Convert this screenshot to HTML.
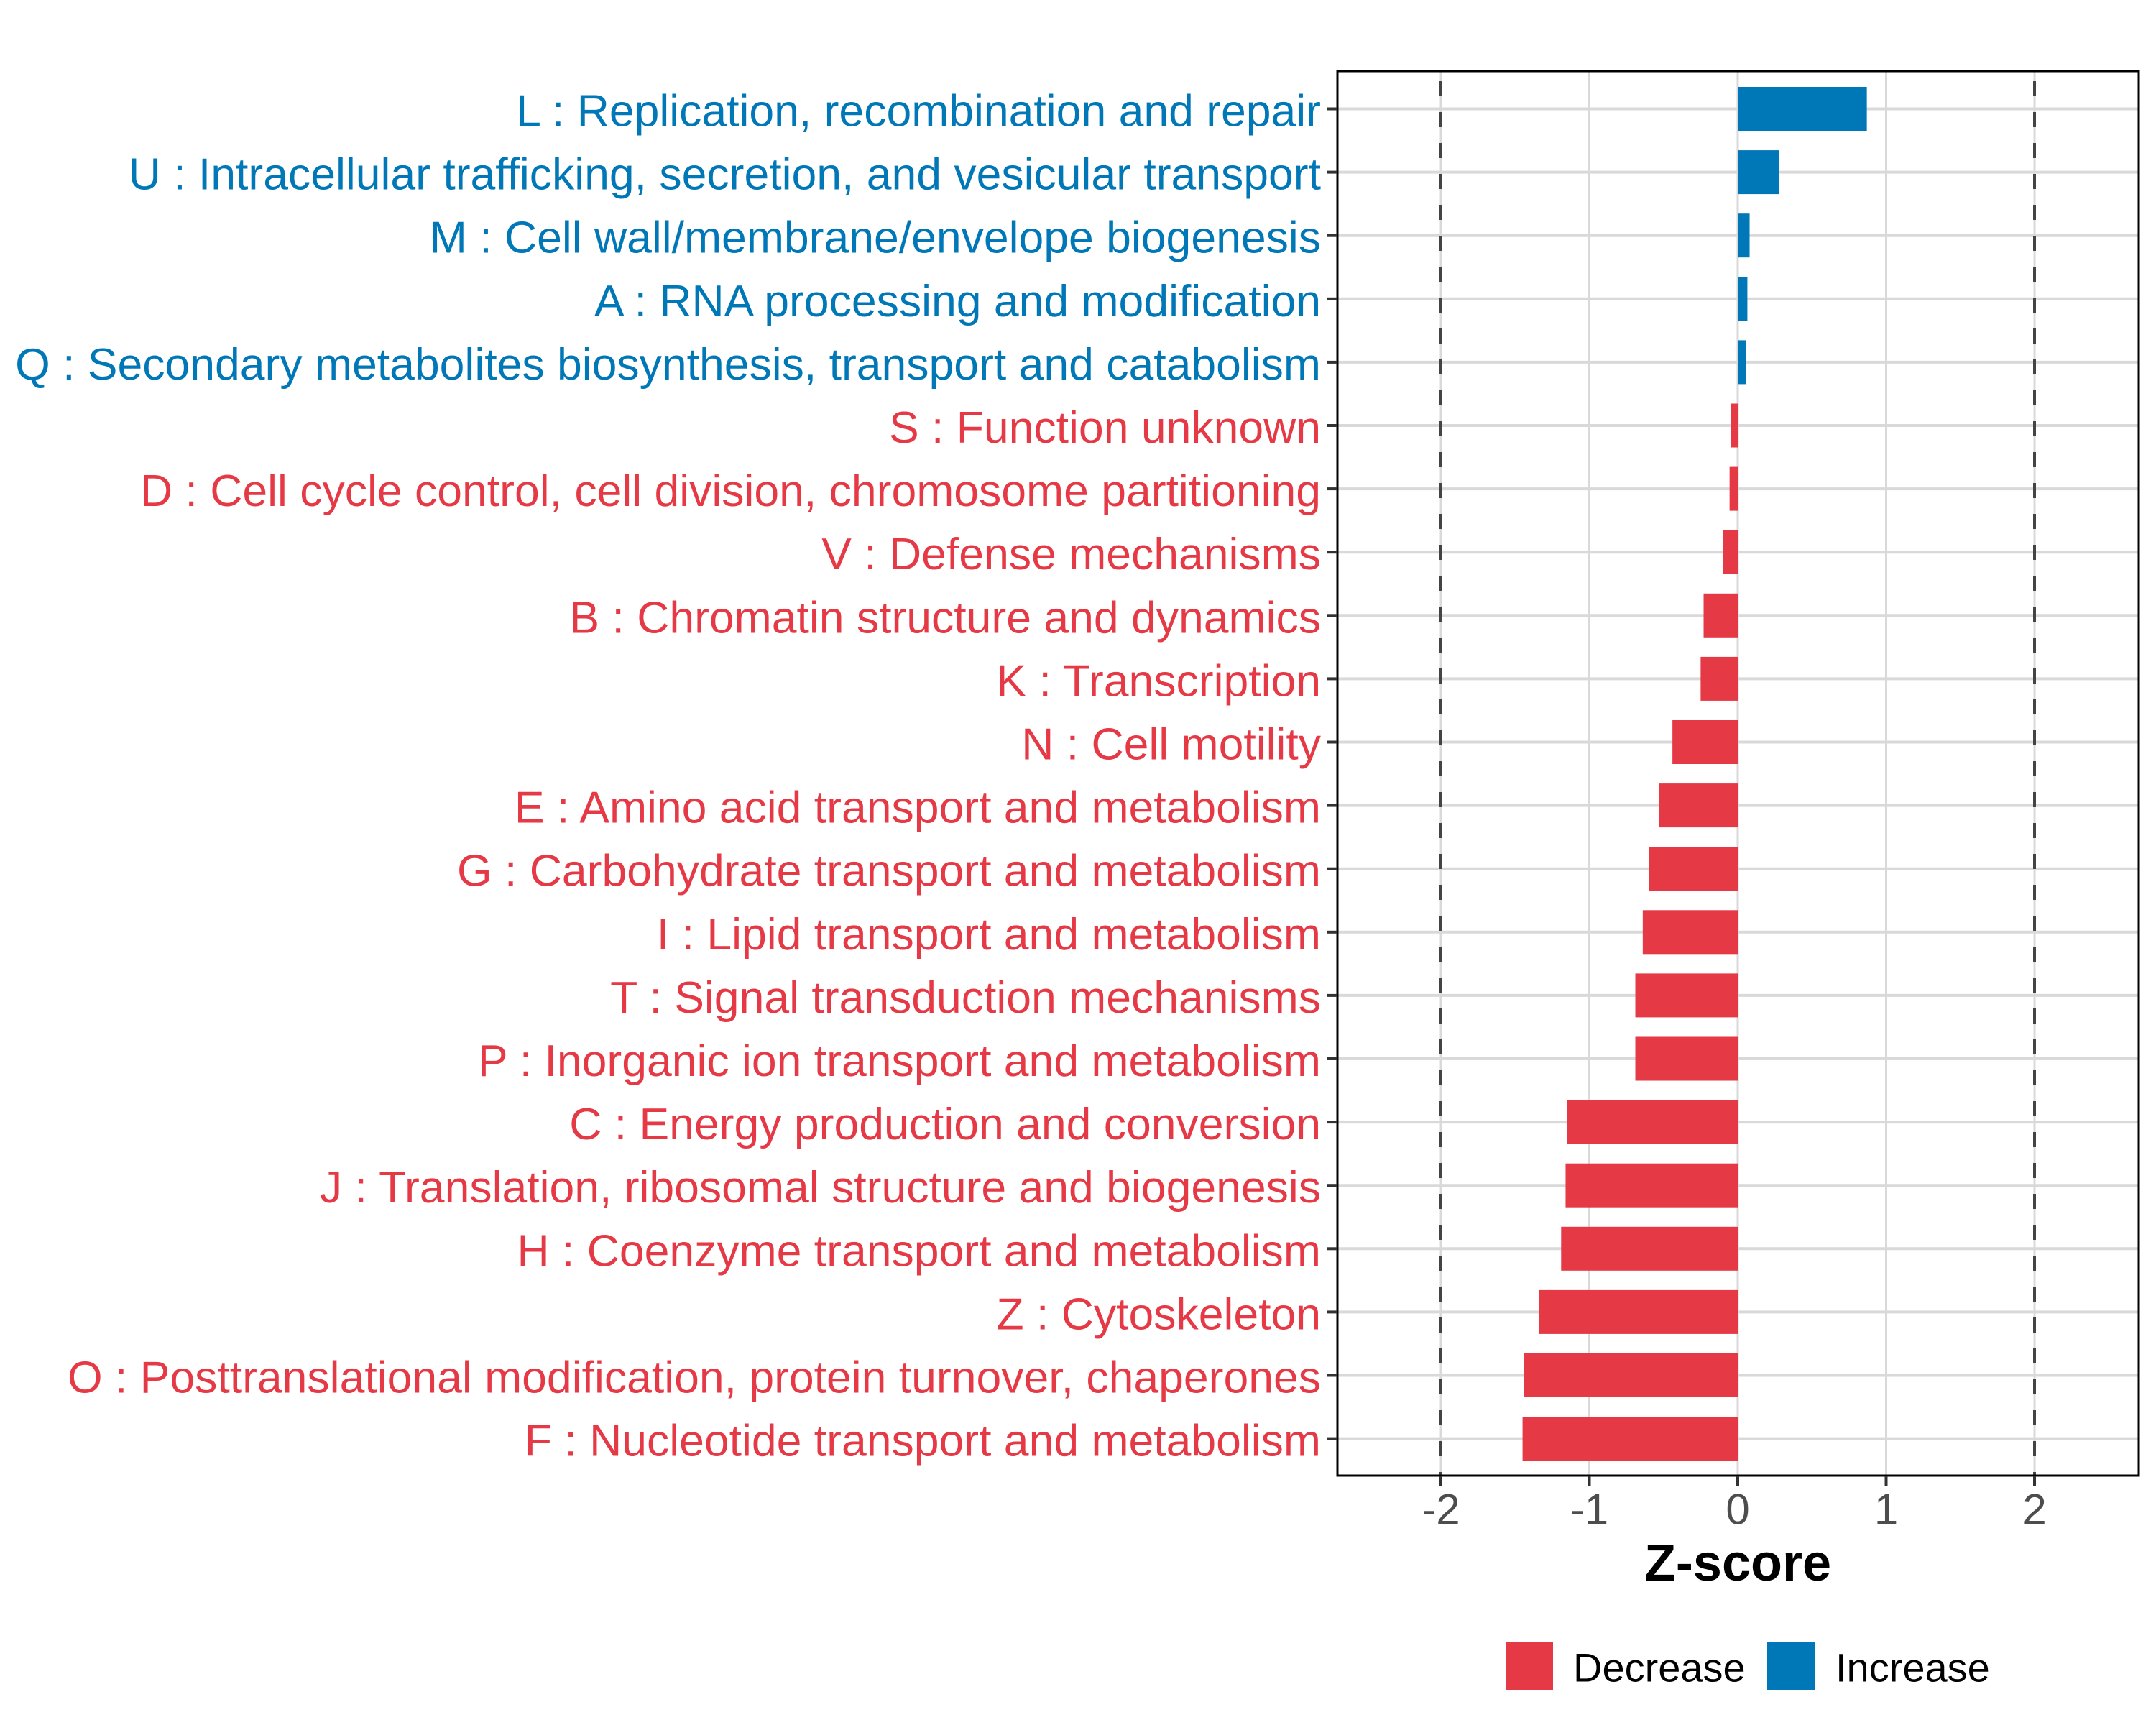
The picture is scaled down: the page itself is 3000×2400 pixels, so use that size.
<!DOCTYPE html>
<html><head><meta charset="utf-8"><style>
html,body{margin:0;padding:0;background:#fff;}
svg{display:block;font-family:"Liberation Sans",Arial,sans-serif;}
</style></head><body>
<svg id="chart" width="3000" height="2400" viewBox="0 0 3000 2400" xmlns="http://www.w3.org/2000/svg">
<rect x="0" y="0" width="3000" height="2400" fill="#fff"/>
<g id="grid"></g><g id="bars"></g><g id="refs"></g>
<rect x="1861" y="99" width="1115" height="1954" fill="none" stroke="#000" stroke-width="3"/>
<g id="yaxis"></g><g id="xaxis"></g>
<text x="2418" y="2175" text-anchor="middle" dominant-baseline="central" font-size="72" font-weight="bold" fill="#000">Z-score</text>
<g>
<rect x="2095" y="2285" width="66" height="66" fill="#E63946"/>
<text x="2189" y="2320" dominant-baseline="central" font-size="56" fill="#000">Decrease</text>
<rect x="2459" y="2285" width="67" height="66" fill="#0077B6"/>
<text x="2554" y="2320" dominant-baseline="central" font-size="56" fill="#000">Increase</text>
</g>
</svg>
<script>
const categories = [
"L : Replication, recombination and repair",
"U : Intracellular trafficking, secretion, and vesicular transport",
"M : Cell wall/membrane/envelope biogenesis",
"A : RNA processing and modification",
"Q : Secondary metabolites biosynthesis, transport and catabolism",
"S : Function unknown",
"D : Cell cycle control, cell division, chromosome partitioning",
"V : Defense mechanisms",
"B : Chromatin structure and dynamics",
"K : Transcription",
"N : Cell motility",
"E : Amino acid transport and metabolism",
"G : Carbohydrate transport and metabolism",
"I : Lipid transport and metabolism",
"T : Signal transduction mechanisms",
"P : Inorganic ion transport and metabolism",
"C : Energy production and conversion",
"J : Translation, ribosomal structure and biogenesis",
"H : Coenzyme transport and metabolism",
"Z : Cytoskeleton",
"O : Posttranslational modification, protein turnover, chaperones",
"F : Nucleotide transport and metabolism"];
const zscores = [0.87,0.277,0.08,0.065,0.055,-0.045,-0.055,-0.10,-0.23,-0.25,-0.44,-0.53,-0.60,-0.64,-0.69,-0.69,-1.15,-1.16,-1.19,-1.34,-1.44,-1.45];
const xTicks = [-2,-1,0,1,2];
const xTickLabels = ["-2","-1","0","1","2"];
const refLines = [-2,2];

const NS="http://www.w3.org/2000/svg";
const X0=2418, XU=206.5, Y0=151.5, YS=88.1, BH=61;
const PL=1861, PR=2976, PT=99, PB=2053;
function xs(v){return X0+v*XU;}
function ys(i){return Y0+i*YS;}
function mk(tag,attrs,parent){const e=document.createElementNS(NS,tag);for(const k in attrs)e.setAttribute(k,attrs[k]);parent.appendChild(e);return e;}
const grid=document.getElementById('grid'),bars=document.getElementById('bars'),refs=document.getElementById('refs'),ya=document.getElementById('yaxis'),xa=document.getElementById('xaxis');
xTicks.forEach(v=>{
  const l=mk('line',{x1:xs(v),x2:xs(v),y1:PT,y2:PB,stroke:'#d9d9d9','stroke-width':3},grid);
  
  
});
categories.forEach((c,i)=>{
  const l=mk('line',{x1:PL,x2:PR,y1:ys(i),y2:ys(i),stroke:'#d9d9d9','stroke-width':4},grid);
  
  
});
zscores.forEach((v,i)=>{
  const x1=Math.min(xs(0),xs(v)),w=Math.abs(xs(v)-xs(0));
  const r=mk('rect',{x:x1,y:ys(i)-BH/2,width:w,height:BH,fill:v>=0?'#0077B6':'#E63946'},bars);
  
  
  const col=v>=0?'#0077B6':'#E63946';
  const t=mk('text',{x:1838,y:ys(i)+3,'text-anchor':'end','dominant-baseline':'central','font-size':62.5,fill:col},ya);
  t.textContent=categories[i];
  
  
  const tk=mk('line',{x1:1847,x2:PL,y1:ys(i),y2:ys(i),stroke:'#333','stroke-width':4},ya);
  
  
});
refLines.forEach(v=>{
  const l=mk('line',{x1:xs(v),x2:xs(v),y1:PT+14,y2:PB,stroke:'#444','stroke-width':4,'stroke-dasharray':'21 22'},refs);
  
  
});
xTicks.forEach((v,i)=>{
  const tk=mk('line',{x1:xs(v),x2:xs(v),y1:PB,y2:PB+14,stroke:'#333','stroke-width':4},xa);
  
  
  const t=mk('text',{x:xs(v),y:2100,'text-anchor':'middle','dominant-baseline':'central','font-size':60,fill:'#4d4d4d'},xa);
  t.textContent=xTickLabels[i];
  
  
});
</script>
</body></html>
